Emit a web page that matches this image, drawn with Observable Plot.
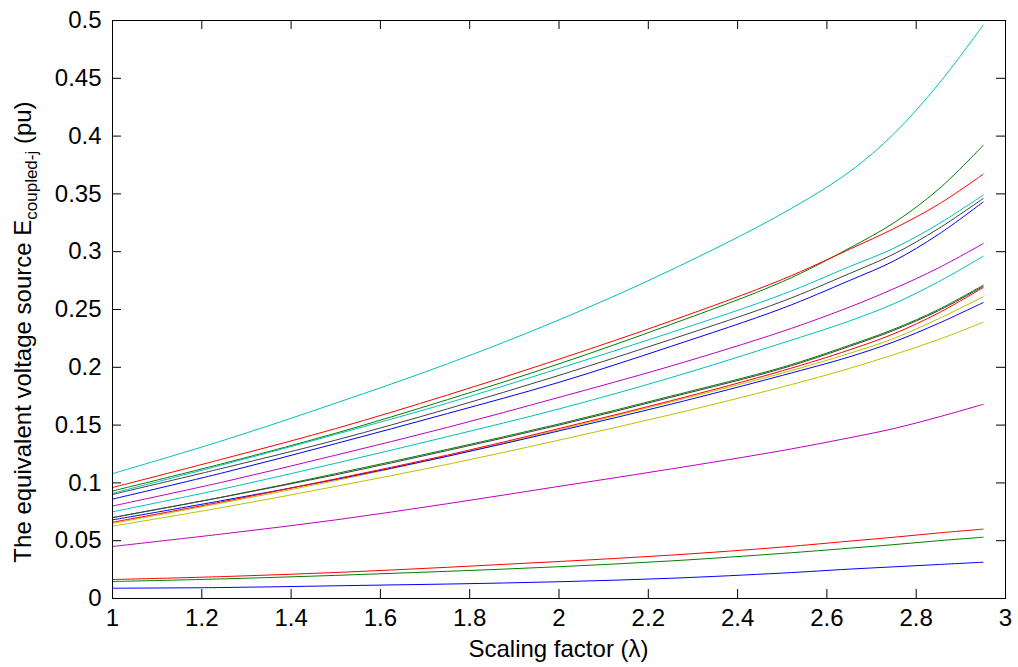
<!DOCTYPE html>
<html><head><meta charset="utf-8">
<script src="https://cdn.jsdelivr.net/npm/d3@7"></script>
<script src="https://cdn.jsdelivr.net/npm/@observablehq/plot@0.6"></script>
<style>body{margin:0;background:#fff}</style>
</head><body><div id="chart"></div>
<script>
// scaling factor values where the curves were read
const lambda = [1, 1.25, 1.5, 1.75, 2, 2.25, 2.5, 2.65, 2.75, 2.85, 2.95];

// equivalent voltage source per bus (pu)
const cyanA   = [0.108, 0.137, 0.169, 0.203, 0.241, 0.284, 0.333, 0.369, 0.402, 0.445, 0.496];
const redA    = [0.096, 0.121, 0.147, 0.176, 0.207, 0.240, 0.276, 0.302, 0.320, 0.341, 0.367];
const greenA  = [0.093, 0.117, 0.143, 0.172, 0.203, 0.237, 0.274, 0.303, 0.325, 0.354, 0.392];
const cyanB   = [0.091, 0.116, 0.142, 0.169, 0.199, 0.230, 0.263, 0.287, 0.303, 0.324, 0.349];
const grayA   = [0.090, 0.113, 0.137, 0.164, 0.193, 0.224, 0.257, 0.281, 0.298, 0.320, 0.346];
const blueA   = [0.086, 0.109, 0.134, 0.160, 0.187, 0.218, 0.251, 0.275, 0.292, 0.315, 0.343];
const magA    = [0.080, 0.101, 0.124, 0.148, 0.174, 0.201, 0.231, 0.252, 0.268, 0.286, 0.307];
const cyanC   = [0.075, 0.095, 0.117, 0.140, 0.164, 0.191, 0.221, 0.240, 0.255, 0.274, 0.296];
const greenB  = [0.070, 0.088, 0.108, 0.129, 0.151, 0.175, 0.200, 0.219, 0.233, 0.250, 0.271];
const grayB   = [0.070, 0.088, 0.107, 0.128, 0.150, 0.174, 0.199, 0.218, 0.232, 0.249, 0.270];
const redB    = [0.066, 0.084, 0.1035, 0.124, 0.147, 0.171, 0.197, 0.215, 0.229, 0.247, 0.269];
const yellowA = [0.065, 0.083, 0.102, 0.123, 0.146, 0.170, 0.195, 0.212, 0.225, 0.242, 0.261];
const blueB   = [0.068, 0.085, 0.103, 0.123, 0.145, 0.168, 0.193, 0.209, 0.222, 0.238, 0.256];
const yellowB = [0.0626, 0.079, 0.097, 0.116, 0.137, 0.159, 0.183, 0.199, 0.211, 0.224, 0.239];
const magB    = [0.045, 0.056, 0.068, 0.082, 0.097, 0.112, 0.128, 0.139, 0.147, 0.157, 0.168];
const redC    = [0.0164, 0.019, 0.0225, 0.027, 0.032, 0.0375, 0.0445, 0.0496, 0.053, 0.0567, 0.060];
const greenC  = [0.0147, 0.017, 0.020, 0.0235, 0.0275, 0.0325, 0.039, 0.0435, 0.0466, 0.050, 0.053];
const blueC   = [0.0089, 0.0095, 0.011, 0.0125, 0.0145, 0.0175, 0.022, 0.0254, 0.0274, 0.0294, 0.0314];

const xTicks = [1, 1.2, 1.4, 1.6, 1.8, 2, 2.2, 2.4, 2.6, 2.8, 3];
const xTickLabels = ["1", "1.2", "1.4", "1.6", "1.8", "2", "2.2", "2.4", "2.6", "2.8", "3"];
const yTicks = [0, 0.05, 0.1, 0.15, 0.2, 0.25, 0.3, 0.35, 0.4, 0.45, 0.5];
const yTickLabels = ["0", "0.05", "0.1", "0.15", "0.2", "0.25", "0.3", "0.35", "0.4", "0.45", "0.5"];

const series = [
  {values: blueA, color: "#0000ff"}, {values: greenA, color: "#008000"}, {values: redA, color: "#ff0000"},
  {values: cyanA, color: "#00bfbf"}, {values: magA, color: "#bf00bf"}, {values: yellowA, color: "#bfbf00"},
  {values: grayA, color: "#404040"}, {values: blueB, color: "#0000ff"}, {values: greenB, color: "#008000"},
  {values: redB, color: "#ff0000"}, {values: cyanB, color: "#00bfbf"}, {values: magB, color: "#bf00bf"},
  {values: yellowB, color: "#bfbf00"}, {values: grayB, color: "#404040"}, {values: blueC, color: "#0000ff"},
  {values: greenC, color: "#008000"}, {values: redC, color: "#ff0000"}, {values: cyanC, color: "#00bfbf"}
];

const W = 1018, H = 667, mL = 112, mR = 13, mT = 20, mB = 69;
const pW = W - mL - mR, pH = H - mT - mB, tick = 9;
const xLab = new Map(xTicks.map((t, i) => [t, xTickLabels[i]]));
const yLab = new Map(yTicks.map((t, i) => [t, yTickLabels[i]]));

const plot = Plot.plot({
  width: W, height: H, marginLeft: mL, marginRight: mR, marginTop: mT, marginBottom: mB,
  style: {fontFamily: "'Liberation Sans', Arial, sans-serif", fontSize: "24px", background: "#fff", color: "#000"},
  x: {domain: [1, 3]},
  y: {domain: [0, 0.5]},
  marks: [
    ...series.map(s => Plot.line(lambda.map((l, i) => ({x: l, y: s.values[i]})),
      {x: "x", y: "y", stroke: s.color, strokeWidth: 1, curve: "catmull-rom"})),
    Plot.frame({stroke: "#000", strokeWidth: 1}),
    Plot.tickX(xTicks, {x: d => d, insetTop: pH - tick, stroke: "#000"}),
    Plot.tickX(xTicks, {x: d => d, insetBottom: pH - tick, stroke: "#000"}),
    Plot.tickY(yTicks, {y: d => d, insetRight: pW - tick, stroke: "#000"}),
    Plot.tickY(yTicks, {y: d => d, insetLeft: pW - tick, stroke: "#000"}),
    Plot.axisX(xTicks, {tickSize: 0, tickPadding: 10, tickFormat: d => xLab.get(d), label: null}),
    Plot.axisY(yTicks, {tickSize: 0, tickPadding: 11, tickFormat: d => yLab.get(d), label: null})
  ]
});
document.getElementById("chart").appendChild(plot);

const svg = d3.select(plot);
svg.append("text")
  .attr("x", mL + pW / 2).attr("y", 657)
  .attr("text-anchor", "middle").attr("fill", "#000")
  .attr("font-size", 24)
  .text("Scaling factor (λ)");

const yt = svg.append("text")
  .attr("transform", `translate(31, ${332}) rotate(-90)`)
  .attr("text-anchor", "middle").attr("fill", "#000")
  .attr("font-size", 24);
yt.append("tspan").text("The equivalent voltage source E");
yt.append("tspan").attr("dy", 6).attr("font-size", 17).text("coupled-j");
yt.append("tspan").attr("dy", -6).text(" (pu)");
</script>
</body></html>
